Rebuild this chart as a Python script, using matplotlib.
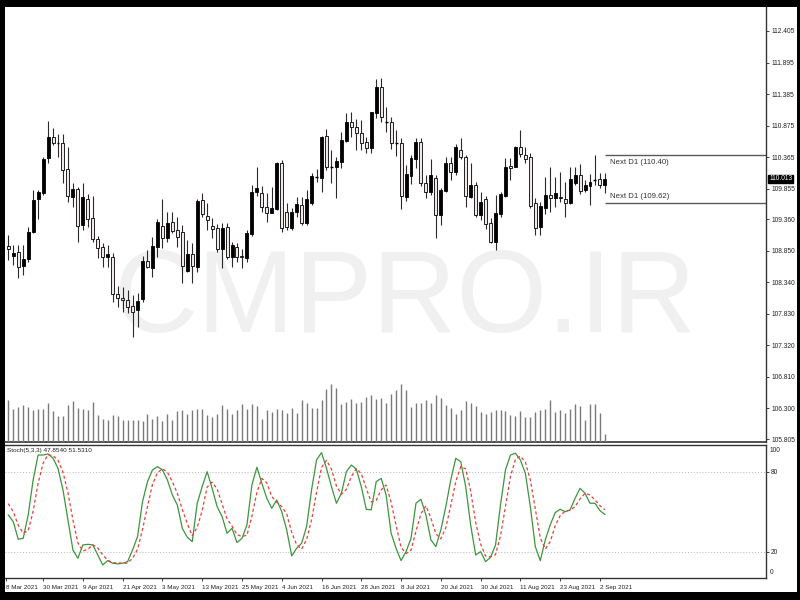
import matplotlib
matplotlib.use("Agg")
import matplotlib.pyplot as plt
from matplotlib.patches import Rectangle
import numpy as np

# Daily candles, 121 bars (oldest first)
opens = [108.93, 108.77, 108.83, 108.60, 108.72, 109.15, 109.69, 109.78, 110.35, 110.69,
         110.59, 110.59, 110.17, 109.72, 109.85, 109.27, 109.69, 109.38, 109.04, 108.91,
         108.75, 108.75, 108.15, 108.09, 108.05, 107.96, 107.89, 108.07, 108.68, 108.57,
         108.91, 109.25, 109.06, 109.32, 109.19, 109.15, 108.52, 108.80, 108.59, 109.67,
         109.41, 109.25, 109.22, 108.88, 109.23, 108.75, 108.91, 108.77, 108.73, 109.12,
         109.80, 109.78, 109.56, 109.46, 109.53, 110.27, 109.48, 109.22, 109.48, 109.59,
         109.30, 109.62, 110.04, 110.03, 110.71, 110.21, 110.21, 110.29, 110.63, 110.93,
         110.85, 110.75, 110.61, 110.51, 111.08, 111.50, 110.93, 110.93, 110.59, 110.59,
         109.72, 110.06, 110.33, 110.61, 109.95, 109.80, 110.03, 109.43, 109.82, 110.27,
         110.12, 110.48, 110.37, 109.72, 109.91, 109.43, 109.69, 109.30, 108.99, 109.44,
         109.74, 110.22, 110.21, 110.53, 110.40, 110.37, 109.62, 109.23, 109.54, 109.75,
         109.70, 109.72, 109.69, 109.62, 109.95, 110.08, 109.83, 109.90, 109.99, 110.01,
         109.91]
highs = [109.10, 108.94, 108.94, 108.94, 109.23, 109.83, 109.83, 110.37, 110.95, 110.84,
         110.74, 110.74, 110.53, 109.95, 109.88, 109.95, 109.77, 109.74, 109.09, 108.98,
         108.94, 108.81, 108.28, 108.26, 108.22, 108.13, 108.17, 108.77, 108.86, 109.07,
         109.36, 109.69, 109.48, 109.48, 109.40, 109.27, 109.02, 108.98, 109.69, 109.78,
         109.62, 109.38, 109.28, 109.30, 109.30, 108.99, 108.98, 108.88, 109.19, 109.91,
         110.21, 109.90, 109.78, 109.88, 110.29, 110.32, 109.62, 109.54, 109.72, 109.72,
         109.83, 110.11, 110.17, 110.71, 110.82, 110.48, 110.37, 110.77, 111.08, 111.09,
         110.98, 110.97, 110.69, 111.10, 111.63, 111.64, 111.18, 111.01, 110.80, 110.67,
         110.24, 110.40, 110.67, 110.67, 110.08, 110.33, 110.08, 109.87, 110.37, 110.37,
         110.58, 110.67, 110.40, 110.27, 109.96, 109.80, 109.74, 109.38, 109.75, 109.80,
         110.35, 110.35, 110.54, 110.80, 110.53, 110.43, 109.70, 109.64, 110.04, 110.21,
         110.04, 110.12, 109.96, 110.21, 110.21, 110.25, 109.99, 110.09, 110.40, 110.11,
         110.11]
lows = [108.70, 108.62, 108.41, 108.46, 108.67, 109.14, 109.36, 109.75, 110.27, 110.56,
        110.37, 109.95, 109.64, 109.56, 108.99, 109.19, 109.23, 108.99, 108.73, 108.59,
        108.59, 108.02, 107.94, 107.86, 107.84, 107.45, 107.62, 108.02, 108.57, 108.43,
        108.75, 108.89, 108.99, 109.14, 108.91, 108.33, 108.51, 108.33, 108.51, 109.40,
        109.19, 109.06, 108.83, 108.57, 108.72, 108.59, 108.67, 108.57, 108.67, 109.09,
        109.74, 109.48, 109.32, 109.46, 109.51, 109.15, 109.19, 109.19, 109.40, 109.27,
        109.27, 109.59, 109.96, 109.80, 110.16, 109.95, 109.70, 110.19, 110.61, 110.69,
        110.48, 110.48, 110.43, 110.43, 111.00, 110.93, 110.77, 110.50, 110.38, 109.53,
        109.65, 109.93, 110.19, 109.90, 109.70, 109.75, 109.06, 109.27, 109.80, 109.99,
        110.08, 110.33, 109.56, 109.70, 109.40, 109.35, 109.20, 108.98, 108.86, 109.40,
        109.72, 109.99, 110.20, 110.37, 110.27, 109.54, 109.11, 109.11, 109.44, 109.48,
        109.56, 109.64, 109.40, 109.61, 109.91, 109.77, 109.80, 109.59, 109.91, 109.86,
        109.78]
closes = [108.88, 108.81, 108.59, 108.72, 109.15, 109.67, 109.80, 110.33, 110.69, 110.59,
          110.58, 110.16, 109.74, 109.85, 109.25, 109.72, 109.36, 109.04, 108.89, 108.75,
          108.80, 108.15, 108.09, 108.05, 107.94, 107.86, 108.04, 108.68, 108.59, 108.93,
          109.32, 109.06, 109.30, 109.17, 109.07, 108.60, 108.80, 108.60, 109.65, 109.44,
          109.35, 109.20, 108.88, 109.22, 108.75, 108.94, 108.75, 108.75, 109.14, 109.80,
          109.87, 109.56, 109.46, 109.54, 110.27, 109.22, 109.23, 109.48, 109.61, 109.30,
          109.69, 110.06, 110.03, 110.69, 110.21, 110.20, 110.30, 110.64, 110.93, 110.85,
          110.75, 110.59, 110.51, 111.09, 111.50, 111.01, 110.92, 110.59, 110.58, 109.74,
          110.09, 110.35, 110.61, 109.95, 109.80, 110.08, 109.43, 109.83, 110.27, 110.12,
          110.53, 110.37, 109.74, 109.91, 109.43, 109.64, 109.28, 108.99, 109.46, 109.77,
          110.21, 110.19, 110.53, 110.42, 110.33, 109.57, 109.22, 109.57, 109.75, 109.70,
          109.78, 109.70, 109.62, 110.01, 110.08, 109.82, 109.91, 109.96, 110.00, 109.91,
          110.013]
volumes = [42400, 32700, 35000, 36700, 35000, 31700, 33400, 33400, 39400, 31000,
           26000, 26000, 36700, 40700, 34400, 33400, 31700, 40000, 26700, 23400,
           21700, 27400, 26000, 21700, 22400, 22400, 21700, 20700, 28400, 23400,
           25700, 20700, 28400, 21700, 31000, 31700, 27700, 31700, 33400, 32700,
           27400, 25000, 27700, 36700, 32700, 28400, 32400, 37700, 32700, 37700,
           35700, 23400, 31700, 30000, 32700, 31700, 29000, 34000, 29400, 42400,
           39400, 34000, 34000, 41700, 52700, 57700, 54000, 37700, 40000, 42700,
           39400, 40000, 45000, 46700, 43400, 44400, 39400, 47700, 51700, 58400,
           51700, 35000, 39400, 39400, 42400, 39400, 47400, 44400, 36700, 34400,
           28400, 31700, 40700, 39400, 35700, 30000, 28400, 30000, 32400, 32400,
           30700, 26700, 26000, 31000, 25000, 25000, 30000, 32400, 33400, 42400,
           30000, 31700, 29000, 32700, 38400, 35700, 22400, 38400, 38400, 29000,
           8400]

# Stochastic (5,3,3): main and signal line
stoch_k = [47.5, 42.5, 29.3, 30.0, 47.5, 73.8, 92.5, 92.5, 93.3, 90.0,
           82.5, 66.3, 43.8, 21.3, 15.0, 25.0, 25.5, 25.0, 17.5, 10.0,
           13.3, 11.3, 10.8, 11.3, 12.5, 21.3, 31.3, 57.5, 72.5, 81.3,
           83.8, 81.3, 73.8, 62.5, 55.0, 37.5, 30.8, 27.5, 56.3, 68.8,
           80.0, 67.5, 53.8, 46.3, 33.8, 37.5, 26.8, 30.0, 40.0, 70.0,
           83.3, 71.3, 60.0, 52.5, 58.8, 50.0, 36.3, 16.8, 22.5, 26.3,
           38.8, 66.3, 88.8, 94.3, 82.5, 68.8, 56.3, 63.8, 80.0, 85.0,
           81.8, 68.8, 51.8, 51.3, 72.5, 75.0, 62.5, 33.8, 22.5, 13.3,
           20.0, 30.0, 56.3, 59.3, 47.5, 28.8, 23.8, 36.3, 53.8, 73.8,
           90.0, 87.5, 68.8, 40.0, 17.5, 20.0, 12.5, 15.8, 25.0, 55.0,
           81.3, 92.5, 93.8, 88.8, 78.8, 53.8, 23.8, 13.3, 28.8, 40.0,
           49.3, 51.8, 50.0, 51.3, 60.0, 67.5, 63.8, 56.3, 56.3, 50.8,
           47.854]
stoch_d = [56.0, 50.0, 39.8, 33.9, 35.6, 50.4, 71.3, 86.3, 92.8, 91.9,
           88.6, 79.6, 64.2, 43.8, 26.7, 20.4, 21.8, 25.2, 22.7, 17.5,
           13.6, 11.5, 11.8, 11.1, 11.5, 15.0, 21.7, 36.7, 53.8, 70.4,
           79.2, 82.1, 79.6, 72.5, 63.8, 51.7, 41.1, 31.9, 38.2, 50.9,
           68.4, 72.1, 67.1, 55.9, 44.6, 39.2, 32.7, 31.4, 32.3, 46.7,
           64.4, 74.9, 71.5, 61.3, 57.1, 53.8, 48.4, 34.4, 25.2, 21.9,
           29.2, 43.8, 64.6, 83.1, 88.5, 81.9, 69.2, 63.0, 66.7, 76.3,
           82.3, 78.5, 67.5, 57.3, 58.5, 66.3, 70.0, 57.1, 39.6, 23.2,
           18.6, 21.1, 35.4, 48.5, 54.4, 45.2, 33.4, 29.6, 38.0, 54.6,
           72.5, 83.8, 82.1, 65.4, 42.1, 25.8, 16.7, 16.1, 17.8, 31.9,
           53.8, 76.3, 89.2, 91.7, 87.1, 73.8, 52.1, 30.3, 22.0, 27.4,
           39.4, 47.0, 50.4, 51.0, 53.8, 59.6, 63.8, 62.5, 58.8, 54.5,
           51.531]

price_ticks = [112.405, 111.895, 111.385, 110.875, 110.365, 109.855, 109.360,
               108.850, 108.340, 107.830, 107.320, 106.810, 106.300, 105.805]
first_date = '8 Mar 2021'
date_labels = ['30 Mar 2021', '9 Apr 2021', '21 Apr 2021', '3 May 2021', '13 May 2021',
               '25 May 2021', '4 Jun 2021', '16 Jun 2021', '28 Jun 2021', '8 Jul 2021',
               '20 Jul 2021', '30 Jul 2021', '11 Aug 2021', '23 Aug 2021', '2 Sep 2021']
next_high = 110.40
next_low = 109.62
last_price = 110.013

plt.rcParams['font.family'] = 'Liberation Sans'
txt = '#222222'
fs = 4.8

W, H = 800, 600
def rect(x0, y0, x1, y1):
    return [x0 / W, 1 - y1 / H, (x1 - x0) / W, (y1 - y0) / H]

fig = plt.figure(figsize=(8, 6), dpi=100, facecolor='black')
fig.patches.append(Rectangle((5 / W, 1 - 592 / H), 792 / W, 585 / H,
                             transform=fig.transFigure, facecolor='white',
                             edgecolor='none', zorder=-10))

n = len(closes)
x = np.arange(n)
xlim = (-0.66, 152.4)

# price panel
ax = fig.add_axes(rect(5, 7, 766, 442))
ax.set_facecolor('none')
ax.set_xlim(*xlim)
ax.set_ylim(105.757, 112.793)

# watermark
ax.text(405 / W, 1 - 332 / H, 'CMPRO.IR', transform=fig.transFigure, ha='center',
        va='baseline', fontsize=84, color='#f0f0f0', zorder=0)

for i in range(n):
    o, h, l, c = opens[i], highs[i], lows[i], closes[i]
    ax.vlines(x[i], l, h, color='#2a2a2a', lw=0.8, zorder=2)
    bottom, top = min(o, c), max(o, c)
    if top - bottom < 0.015:
        ax.hlines(o, x[i] - 0.3, x[i] + 0.3, color='black', lw=1.0, zorder=3)
    else:
        face = 'black' if c > o else '#f1e8e8'
        ax.add_patch(Rectangle((x[i] - 0.3, bottom), 0.6, top - bottom,
                               facecolor=face, edgecolor='black', lw=0.6, zorder=3))

ax.hlines([next_high, next_low], x[-1], xlim[1], color='#5a5a5a', lw=1.0, zorder=2)
ax.text(x[-1] + 1, next_high - 0.06, 'Next D1 (%.2f)' % next_high, fontsize=5.6,
        va='top', ha='left', color='#333333')
ax.text(x[-1] + 1, next_low + 0.05, 'Next D1 (%.2f)' % next_low, fontsize=5.6,
        va='bottom', ha='left', color='#333333')

ax.yaxis.tick_right()
ax.set_yticks(price_ticks)
ax.set_yticklabels(['%.3f' % t for t in price_ticks])
ax.tick_params(axis='y', direction='out', length=2.5, width=0.6, pad=1.2,
               labelsize=fs, colors=txt)
ax.set_xticks([])
for s in ['top', 'left']:
    ax.spines[s].set_visible(False)
ax.spines['right'].set_color('#333333')
ax.spines['bottom'].set_color('#333333')
ax.spines['right'].set_linewidth(1.0)
ax.spines['bottom'].set_linewidth(1.2)

ax.text(1.004, last_price, '%.3f' % last_price, transform=ax.get_yaxis_transform(),
        ha='left', va='center', fontsize=fs, color='white', zorder=5,
        bbox=dict(facecolor='black', edgecolor='black', pad=0.5))

# volumes along the bottom of the price panel
axv = fig.add_axes(rect(5, 7, 766, 442))
axv.set_facecolor('none')
axv.set_xlim(*xlim)
axv.set_ylim(0, 435000)
axv.vlines(x, 0, volumes, color='#7a7a7a', lw=1.0)
axv.axis('off')

# stochastic panel
ax2 = fig.add_axes(rect(5, 445, 766, 578.3))
ax2.set_facecolor('none')
ax2.set_xlim(*xlim)
ax2.set_ylim(0, 100)
for lvl in (80, 20):
    ax2.axhline(lvl, color='#b5b5b5', lw=0.7, linestyle=(0, (1, 2)))
ax2.plot(x, stoch_k, color='#3c963c', lw=0.9)
ax2.plot(x, stoch_d, color='#e8403a', lw=0.9, linestyle=(0, (2.5, 2)))

ax2.text(0.002, 0.975, 'Stoch(5,3,3) %.4f %.4f' % (stoch_k[-1], stoch_d[-1]),
         transform=ax2.transAxes, ha='left', va='top', fontsize=4.6, color=txt)

ax2.yaxis.tick_right()
ax2.set_yticks([80, 20])
ax2.set_yticklabels(['80', '20'])
ax2.tick_params(axis='y', direction='out', length=2.5, width=0.6, pad=1.2,
                labelsize=fs, colors=txt)
ax2.text(1.005, 0.985, '100', transform=ax2.transAxes, ha='left', va='top',
         fontsize=fs, color=txt)
ax2.text(1.005, 0.015, '0', transform=ax2.transAxes, ha='left', va='bottom',
         fontsize=fs, color=txt)

ax2.set_xticks([-0.5] + list(range(7, 120, 8)))
ax2.set_xticklabels([first_date] + date_labels)
ax2.tick_params(axis='x', direction='out', length=2.5, width=0.6, pad=2.5,
                labelsize=4.5, colors=txt)
for lbl in ax2.get_xticklabels():
    lbl.set_horizontalalignment('left')
ax2.spines['left'].set_visible(False)
for s in ['top', 'right', 'bottom']:
    ax2.spines[s].set_color('#333333')
    ax2.spines[s].set_linewidth(1.0)

fig.savefig('out.png', dpi=100, facecolor='black')
